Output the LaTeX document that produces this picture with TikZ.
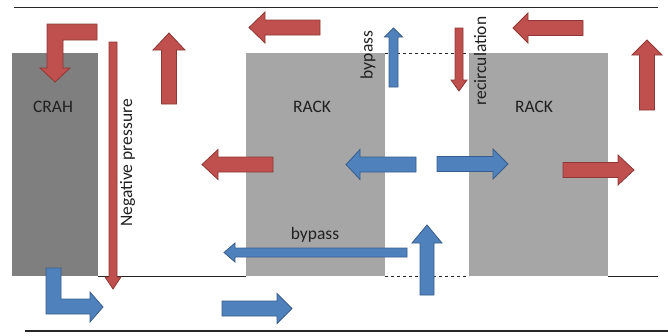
\documentclass[tikz,border=0pt]{standalone}
\usepackage{fontspec}
\setmainfont{Carlito}
\definecolor{redfill}{HTML}{C0504D}
\definecolor{redline}{HTML}{8C3836}
\definecolor{bluefill}{HTML}{4F81BD}
\definecolor{blueline}{HTML}{385D8A}
\definecolor{crahgray}{HTML}{7F7F7F}
\definecolor{rackgray}{HTML}{A6A6A6}
\definecolor{txt}{HTML}{202020}
\newcommand\blockarr[8]{%
  \draw[#1,shift={(#2,#3)},rotate=#4] (0,#6) -- ({#5-#8},#6) -- ({#5-#8},#7) -- (#5,0) -- ({#5-#8},-#7) -- ({#5-#8},-#6) -- (0,-#6) -- cycle;}
\tikzset{
  redarr/.style={fill=redfill,draw=redline,line width=0.8pt,line join=miter},
  bluearr/.style={fill=bluefill,draw=blueline,line width=0.8pt,line join=miter},
  label/.style={font=\fontsize{17.5}{20}\selectfont,text=txt,inner sep=0pt},
  wall/.style={line width=#1,draw=black!85},
}
\begin{document}
\begin{tikzpicture}[x=1pt,y=-1pt]
\useasboundingbox (0,0) rectangle (668,335);
% units
\fill[crahgray] (12,53) rectangle (98,276);
\fill[rackgray] (246,53) rectangle (385,276);
\fill[rackgray] (469,53) rectangle (608,276);
% walls
\draw[wall=1.4pt] (14,7.5) -- (658,7.5);
\draw[wall=1.8pt] (25,331) -- (668,331);
\draw[wall=0.8pt] (98,276) -- (246,276);
\draw[wall=0.8pt] (608,276) -- (658,276);
\draw[wall=0.8pt,dashed] (385,276) -- (469,276);
\draw[wall=0.8pt,dashed] (385,53) -- (469,53);
% texts
\node[label] (crah) at (53,107) {CRAH};
\node[label] (rack1) at (312,107) {RACK};
\node[label] (rack2) at (534,107) {RACK};
\node[label,rotate=90] (neg) at (127.5,163) {Negative pressure};
\node[label,rotate=90] (byp1) at (368,55) {bypass};
\node[label,rotate=90] (recirc) at (480,61) {recirculation};
\node[label] (byp2) at (315,235) {bypass};
% red arrows
\draw[redarr] (97,24) -- (47,24) -- (47,68) -- (40,68) -- (55,82) -- (70,68) -- (63,68) -- (63,40) -- (97,40) -- cycle;
\blockarr{redarr}{113}{42}{-90}{247}{4}{8}{12}
\blockarr{redarr}{169}{104}{90}{71}{7.5}{16}{17}
\blockarr{redarr}{320}{27.5}{180}{71}{7.5}{15.5}{16}
\blockarr{redarr}{273}{164.5}{180}{71}{7.5}{15}{16}
\blockarr{redarr}{459}{28}{-90}{63}{4}{8}{11}
\blockarr{redarr}{583}{28}{180}{70}{7.5}{15}{15}
\blockarr{redarr}{563}{170}{0}{71}{7.5}{15}{16}
\blockarr{redarr}{647}{110}{90}{70}{7.5}{15}{15}
% blue arrows
\draw[bluearr] (46,268) -- (46,314) -- (90,314) -- (90,322) -- (103,307) -- (90,292) -- (90,299) -- (61,299) -- (61,268) -- cycle;
\blockarr{bluearr}{393.5}{87}{90}{59}{4.5}{9}{9}
\blockarr{bluearr}{416}{164.5}{180}{70}{7.5}{15}{14}
\blockarr{bluearr}{437}{164}{0}{71}{7.5}{15}{15}
\blockarr{bluearr}{407}{252.5}{180}{183}{4.5}{9.5}{11}
\blockarr{bluearr}{427}{295}{90}{70}{7}{15}{18}
\blockarr{bluearr}{222}{308.5}{0}{70}{7.5}{15}{15}
\end{tikzpicture}
\end{document}
